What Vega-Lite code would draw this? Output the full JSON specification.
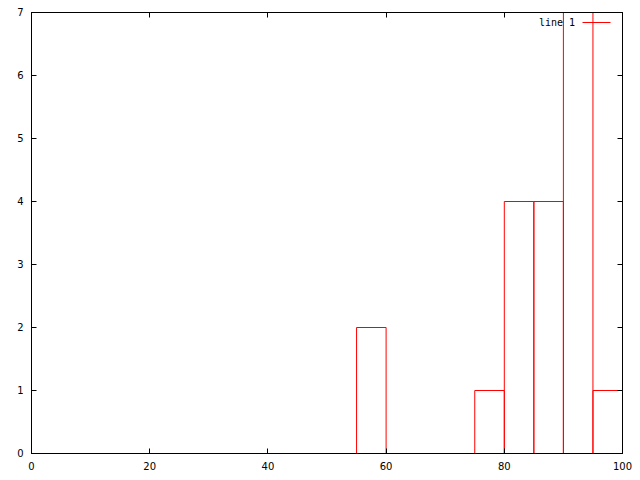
{
  "$schema": "https://vega.github.io/schema/vega-lite/v6.json",
  "autosize": "none",
  "padding": {"left": 31, "top": 12, "right": 18, "bottom": 26},
  "width": 591,
  "height": 441,
  "background": "white",
  "config": {
    "view": {"stroke": "black", "strokeWidth": 1},
    "axis": {
      "grid": false,
      "domainColor": "black",
      "tickColor": "black",
      "labelColor": "black",
      "labelFont": "DejaVu Sans",
      "labelFontSize": 10,
      "title": null
    }
  },
  "data": {
    "values": [
      {"start": 55, "end": 60, "count": 2, "series": "line 1"},
      {"start": 75, "end": 80, "count": 1, "series": "line 1"},
      {"start": 80, "end": 85, "count": 4, "series": "line 1"},
      {"start": 85, "end": 90, "count": 4, "series": "line 1"},
      {"start": 90, "end": 95, "count": 7, "series": "line 1"},
      {"start": 95, "end": 100, "count": 1, "series": "line 1"}
    ]
  },
  "layer": [
    {
      "mark": {"type": "rect", "fill": null, "fillOpacity": 0, "strokeWidth": 1, "xOffset": 0.5, "yOffset": 0.5, "x2Offset": 0.5, "y2Offset": 0.5},
      "encoding": {
        "x": {"field": "start", "type": "quantitative", "scale": {"domain": [0, 100], "nice": false},
          "axis": {"orient": "bottom", "zindex": 2, "values": [0, 20, 40, 60, 80, 100], "tickSize": -5, "labelPadding": 13, "labelFlush": false}},
        "x2": {"field": "end"},
        "y": {"field": "count", "type": "quantitative", "scale": {"domain": [0, 7], "nice": false},
          "axis": {"orient": "left", "zindex": 2, "values": [0, 1, 2, 3, 4, 5, 6, 7], "tickSize": -5, "labelPadding": 13, "labelFlush": false}},
        "y2": {"datum": 0},
        "stroke": {"field": "series", "type": "nominal",
          "scale": {"range": ["#ff0000"]},
          "legend": {
            "orient": "none", "legendX": 551, "legendY": -4, "padding": 0,
            "title": null, "symbolType": "stroke", "symbolSize": 784,
            "symbolStrokeWidth": 1, "labelAlign": "right", "labelOffset": -36,
            "labelFont": "DejaVu Sans Mono", "labelFontSize": 10, "labelColor": "black"
          }}
      }
    },
    {
      "mark": {"type": "rect", "opacity": 0},
      "encoding": {
        "x": {"field": "start", "type": "quantitative",
          "axis": {"orient": "top", "zindex": 2, "values": [0, 20, 40, 60, 80, 100], "tickSize": -5, "labels": false, "domain": true}},
        "y": {"field": "count", "type": "quantitative",
          "axis": {"orient": "right", "zindex": 2, "values": [0, 1, 2, 3, 4, 5, 6, 7], "tickSize": -5, "labels": false, "domain": true}}
      }
    }
  ]
}
